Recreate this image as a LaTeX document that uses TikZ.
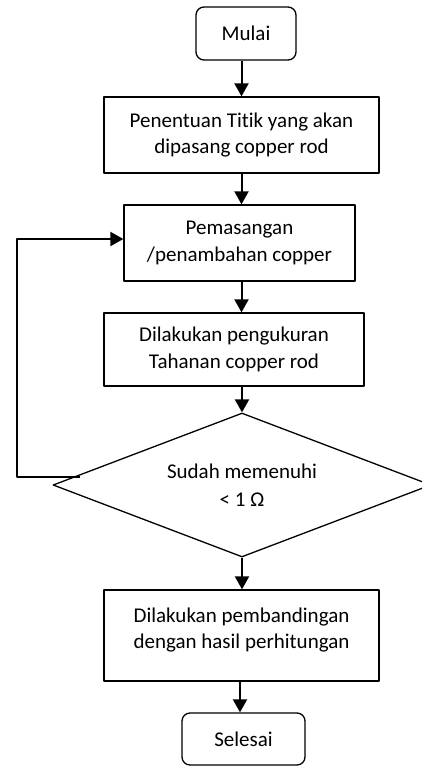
\documentclass[tikz,border=0pt]{standalone}
\usepackage{fontspec}
\setmainfont{Carlito}[Ligatures=CommonOff]
\usetikzlibrary{arrows.meta, shapes.geometric}

\begin{document}
\begin{tikzpicture}[x=1pt, y=-1pt, line join=round,
    box/.style={draw, line width=1.3pt, align=center, inner sep=0pt, font=\fontsize{21}{26.5}\selectfont},
    term/.style={box, rounded corners=8pt},
    decision/.style={box, diamond, aspect=2.625, minimum width=378pt, minimum height=144pt},
    arr/.style={line width=2pt, -{Triangle[length=13pt, width=14pt]}}]
    % 1. canvas
    \useasboundingbox (0,0) rectangle (422,766);

    % 2. steps
    \node[term, minimum width=100pt, minimum height=53pt] (mulai) at (246,33.5) {Mulai};
    \node[box, minimum width=275pt, minimum height=76pt] (titik) at (241.5,135) {Penentuan Titik yang akan\\dipasang copper rod};
    \node[box, minimum width=231pt, minimum height=76pt] (pasang) at (239.5,243) {Pemasangan\\/penambahan copper};
    \node[box, minimum width=260pt, minimum height=73pt] (ukur) at (234,349.5) {Dilakukan pengukuran\\Tahanan copper rod};
    \node[decision] (cek) at (242,485) {Sudah memenuhi\\[2pt]< 1 Ω};
    \node[box, minimum width=275pt, minimum height=91pt] (banding) at (241.5,635.5) {Dilakukan pembandingan\\dengan hasil perhitungan\\[-12pt]~};
    \node[term, minimum width=123pt, minimum height=52pt] (selesai) at (243.5,739) {Selesai};

    % 3. arrows
    \draw[arr] (mulai.south -| titik.north) -- (titik.north);
    \draw[arr] (titik) -- (pasang.north -| titik);
    \draw[arr] (ukur.north -| titik) ++(0,-32) -- (ukur.north -| titik);
    \draw[arr] (ukur.south -| cek) -- (cek.north);
    \draw[arr] (cek.south) -- (banding.north -| cek);
    \draw[arr] (selesai.north -| 240,0) ++(0,-32) -- (selesai.north -| 240,0);

    % 4. loop back
    \coordinate (kiri) at (80,477);
    \draw[arr] (kiri) -- (17,477) |- ([yshift=4pt]pasang.west);
\end{tikzpicture}
\end{document}
